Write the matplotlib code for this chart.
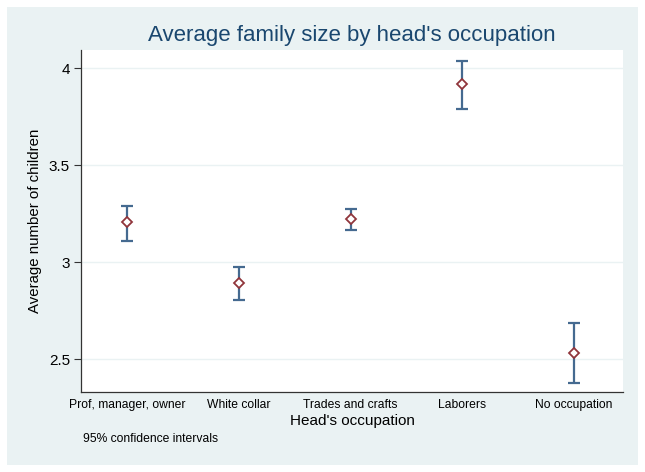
import matplotlib
matplotlib.use("Agg")
import matplotlib.pyplot as plt
from matplotlib.patches import Rectangle

categories = ["Prof, manager, owner", "White collar", "Trades and crafts", "Laborers", "No occupation"]
means = [3.206, 2.892, 3.222, 3.919, 2.534]
ci_low = [3.111, 2.806, 3.165, 3.789, 2.376]
ci_high = [3.290, 2.974, 3.275, 4.039, 2.686]
yticks = [2.5, 3, 3.5, 4]
ytick_labels = ["2.5", "3", "3.5", "4"]

plt.rcParams['font.family'] = ['Liberation Sans', 'DejaVu Sans']

W, H = 645, 472
fig = plt.figure(figsize=(W / 100, H / 100), dpi=100)
fig.patch.set_facecolor("white")
bg = Rectangle((7 / W, 7 / H), 631 / W, 458 / H, transform=fig.transFigure,
               facecolor="#eaf2f3", edgecolor="none", zorder=-10)
fig.patches.append(bg)

ax = fig.add_axes([81 / W, (H - 392) / H, (623 - 81) / W, (392 - 50) / H])
ax.set_zorder(1)
ax.set_facecolor("white")

x = list(range(1, len(categories) + 1))
yerr = [[m - lo for m, lo in zip(means, ci_low)], [hi - m for m, hi in zip(means, ci_high)]]
ax.errorbar(x, means, yerr=yerr, fmt="none", ecolor="#456a90", elinewidth=1.6,
            capsize=4.5, capthick=1.6, zorder=2)
ax.plot(x, means, linestyle="none", marker="D", markersize=5.5, markerfacecolor="white",
        markeredgecolor="#90353b", markeredgewidth=1.3, zorder=3)

ax.set_xlim(0.585, 5.44)
ax.set_ylim(2.331, 4.094)
ax.set_yticks(yticks)
ax.set_yticklabels(ytick_labels, fontsize=11)
ax.set_xticks(x)
ax.set_xticklabels(categories, fontsize=8.7)
ax.tick_params(axis="x", length=0, pad=5)
ax.tick_params(axis="y", length=5, width=0.8, color="#333333", pad=3)
ax.yaxis.grid(True, color="#eaf2f3", linewidth=1)
ax.set_axisbelow(True)
for s in ["top", "right"]:
    ax.spines[s].set_visible(False)
for s in ["left", "bottom"]:
    ax.spines[s].set_color("#333333")
    ax.spines[s].set_linewidth(0.9)

ax.set_ylabel("Average number of children", fontsize=10.8, labelpad=5)
ax.set_xlabel("Head's occupation", fontsize=11, labelpad=2)

fig.text(0.5 * (81 + 623) / W, 1 - 36 / H, "Average family size by head's occupation",
         ha="center", va="center", fontsize=16, color="#1a476f")
fig.text(83 / W, 1 - 439 / H, "95% confidence intervals", ha="left", va="center",
         fontsize=8.7, color="black")

fig.savefig("out.png", dpi=100, facecolor=fig.get_facecolor())
